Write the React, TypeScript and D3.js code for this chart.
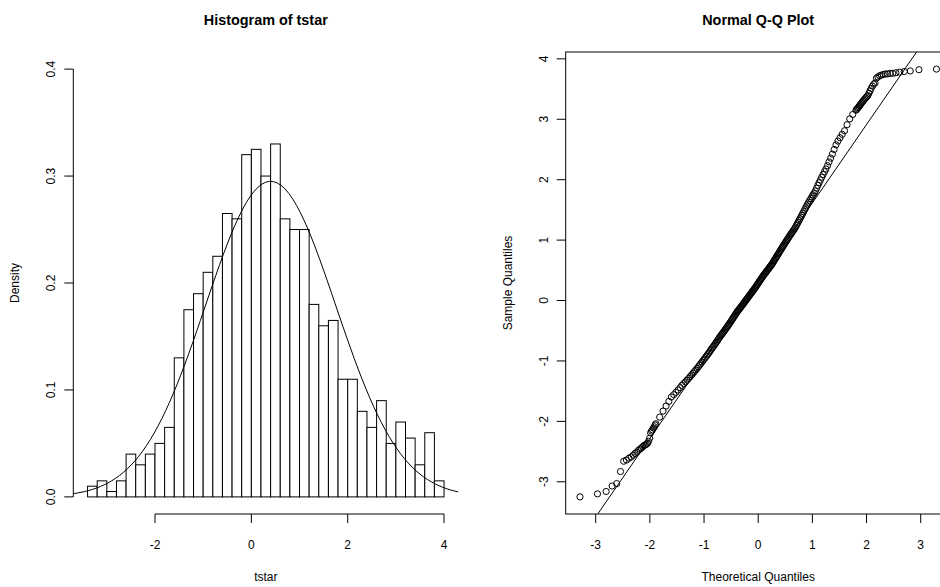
import React from 'react';
import * as d3 from 'd3';

// ---------------- data ----------------
const histBreaks = [-3.4, -3.2, -3.0, -2.8, -2.6, -2.4, -2.2, -2.0, -1.8, -1.6, -1.4, -1.2, -1.0, -0.8, -0.6, -0.4, -0.2, 0, 0.2, 0.4, 0.6, 0.8, 1.0, 1.2, 1.4, 1.6, 1.8, 2.0, 2.2, 2.4, 2.6, 2.8, 3.0, 3.2, 3.4, 3.6, 3.8, 4.0];
const histDensity = [0.01, 0.015, 0.005, 0.015, 0.04, 0.03, 0.04, 0.05, 0.065, 0.13, 0.175, 0.19, 0.21, 0.225, 0.265, 0.26, 0.32, 0.325, 0.3, 0.33, 0.26, 0.25, 0.25, 0.18, 0.16, 0.165, 0.11, 0.11, 0.08, 0.065, 0.09, 0.05, 0.07, 0.055, 0.03, 0.06, 0.015];
const histYLim = [0, 0.4];
const normMean = 0.4;
const normSd = 1.352;
const histXTicks = [-2, 0, 2, 4];
const histYTicks = [0, 0.1, 0.2, 0.3, 0.4];
const histYTickLabels = ['0.0', '0.1', '0.2', '0.3', '0.4'];

const sampleSize = 1000;
// [rank, sample value] — lower tail
const qqLowTail: [number, number][] = [
  [1, -3.25], [2, -3.2], [3, -3.16], [4, -3.07], [5, -3.03], [6, -2.83], [7, -2.66], [8, -2.64], [9, -2.61], [10, -2.59],
  [11, -2.56], [12, -2.53], [13, -2.51], [14, -2.48], [15, -2.46], [16, -2.44], [17, -2.42], [18, -2.4], [19, -2.39], [20, -2.38],
  [21, -2.36], [22, -2.33], [23, -2.28], [24, -2.19], [25, -2.16], [26, -2.14], [27, -2.11], [28, -2.09], [29, -2.06], [30, -2.04],
];
// body
const qqBody: [number, number][] = [
  [35, -1.93], [40, -1.83], [45, -1.746], [50, -1.669], [55, -1.596], [60, -1.558], [65, -1.519], [70, -1.481], [75, -1.442], [80, -1.404],
  [85, -1.374], [90, -1.346], [95, -1.317], [100, -1.289], [105, -1.26], [110, -1.231], [115, -1.203], [120, -1.176], [125, -1.15], [130, -1.124],
  [135, -1.097], [140, -1.071], [145, -1.045], [150, -1.018], [155, -0.993], [160, -0.969], [165, -0.945], [170, -0.921], [175, -0.898], [180, -0.874],
  [185, -0.85], [190, -0.826], [195, -0.802], [200, -0.78], [205, -0.758], [210, -0.736], [215, -0.713], [220, -0.691], [225, -0.669], [230, -0.647],
  [235, -0.624], [240, -0.602], [245, -0.583], [250, -0.564], [255, -0.545], [260, -0.526], [265, -0.508], [270, -0.489], [275, -0.47], [280, -0.451],
  [285, -0.432], [290, -0.413], [295, -0.394], [300, -0.375], [305, -0.356], [310, -0.337], [315, -0.317], [320, -0.298], [325, -0.279], [330, -0.26],
  [335, -0.24], [340, -0.221], [345, -0.202], [350, -0.186], [355, -0.17], [360, -0.155], [365, -0.139], [370, -0.123], [375, -0.108], [380, -0.092],
  [385, -0.077], [390, -0.061], [395, -0.045], [400, -0.03], [405, -0.014], [410, 0.002], [415, 0.017], [420, 0.032], [425, 0.048], [430, 0.063],
  [435, 0.078], [440, 0.094], [445, 0.109], [450, 0.125], [455, 0.14], [460, 0.155], [465, 0.171], [470, 0.186], [475, 0.202], [480, 0.218],
  [485, 0.235], [490, 0.252], [495, 0.268], [500, 0.285], [505, 0.302], [510, 0.318], [515, 0.335], [520, 0.352], [525, 0.368], [530, 0.385],
  [535, 0.402], [540, 0.417], [545, 0.432], [550, 0.447], [555, 0.462], [560, 0.477], [565, 0.492], [570, 0.508], [575, 0.523], [580, 0.538],
  [585, 0.553], [590, 0.568], [595, 0.583], [600, 0.598], [605, 0.617], [610, 0.637], [615, 0.656], [620, 0.675], [625, 0.694], [630, 0.713],
  [635, 0.733], [640, 0.752], [645, 0.771], [650, 0.79], [655, 0.81], [660, 0.83], [665, 0.85], [670, 0.87], [675, 0.89], [680, 0.91],
  [685, 0.93], [690, 0.95], [695, 0.97], [700, 0.99], [705, 1.01], [710, 1.03], [715, 1.05], [720, 1.07], [725, 1.09], [730, 1.11],
  [735, 1.13], [740, 1.15], [745, 1.17], [750, 1.19], [755, 1.214], [760, 1.242], [765, 1.269], [770, 1.297], [775, 1.325], [780, 1.353],
  [785, 1.381], [790, 1.409], [795, 1.441], [800, 1.472], [805, 1.503], [810, 1.534], [815, 1.566], [820, 1.597], [825, 1.627], [830, 1.658],
  [835, 1.688], [840, 1.718], [845, 1.748], [850, 1.779], [855, 1.814], [860, 1.859], [865, 1.905], [870, 1.95], [875, 1.995], [880, 2.041],
  [885, 2.086], [890, 2.132], [895, 2.177], [900, 2.231], [905, 2.294], [910, 2.356], [915, 2.423], [920, 2.5], [925, 2.577], [930, 2.639],
  [935, 2.694], [940, 2.75], [945, 2.81], [950, 2.91], [955, 3.007], [960, 3.079], [965, 3.15],
];
// upper tail
const qqHighTail: [number, number][] = [
  [966, 3.164], [967, 3.179], [968, 3.193], [969, 3.209], [970, 3.227], [971, 3.245], [972, 3.264], [973, 3.282], [974, 3.3], [975, 3.318],
  [976, 3.336], [977, 3.355], [978, 3.373], [979, 3.391], [980, 3.43], [981, 3.47], [982, 3.51], [983, 3.55], [984, 3.58], [985, 3.6],
  [986, 3.68], [987, 3.7], [988, 3.72], [989, 3.73], [990, 3.74], [991, 3.75], [992, 3.75], [993, 3.76], [994, 3.76], [995, 3.77],
  [996, 3.78], [997, 3.79], [998, 3.8], [999, 3.82], [1000, 3.83],
];
const qqXTicks = [-3, -2, -1, 0, 1, 2, 3];
const qqYTicks = [-3, -2, -1, 0, 1, 2, 3, 4];

// ---------------- helpers ----------------
function qnorm(p: number): number {
  const a = [-3.969683028665376e1, 2.209460984245205e2, -2.759285104469687e2, 1.38357751867269e2, -3.066479806614716e1, 2.506628277459239];
  const b = [-5.447609879822406e1, 1.615858368580409e2, -1.556989798598866e2, 6.680131188771972e1, -1.328068155288572e1];
  const c = [-7.784894002430293e-3, -3.223964580411365e-1, -2.400758277161838, -2.549732539343734, 4.374664141464968, 2.938163982698783];
  const d = [7.784695709041462e-3, 3.224671290700398e-1, 2.445134137142996, 3.754408661907416];
  const pl = 0.02425;
  if (p < pl) {
    const q = Math.sqrt(-2 * Math.log(p));
    return (((((c[0] * q + c[1]) * q + c[2]) * q + c[3]) * q + c[4]) * q + c[5]) / ((((d[0] * q + d[1]) * q + d[2]) * q + d[3]) * q + 1);
  }
  if (p > 1 - pl) {
    const q = Math.sqrt(-2 * Math.log(1 - p));
    return -(((((c[0] * q + c[1]) * q + c[2]) * q + c[3]) * q + c[4]) * q + c[5]) / ((((d[0] * q + d[1]) * q + d[2]) * q + d[3]) * q + 1);
  }
  const q = p - 0.5;
  const r = q * q;
  return (((((a[0] * r + a[1]) * r + a[2]) * r + a[3]) * r + a[4]) * r + a[5]) * q / (((((b[0] * r + b[1]) * r + b[2]) * r + b[3]) * r + b[4]) * r + 1);
}
const dnorm = (x: number, m: number, s: number) => Math.exp(-0.5 * ((x - m) / s) ** 2) / (s * Math.sqrt(2 * Math.PI));
const pad4 = (lo: number, hi: number) => { const d = (hi - lo) * 0.04; return [lo - d, hi + d]; };

const FONT = '"Liberation Sans", Arial, Helvetica, sans-serif';
const TOP = 52, BOTTOM = 514;
const PW = 385;
const H_LEFT = 73.3, Q_LEFT = 565.7;
const TICK = 9;

export default function App() {
  // histogram scales
  const hx = d3.scaleLinear().domain(pad4(histBreaks[0], histBreaks[histBreaks.length - 1])).range([H_LEFT, H_LEFT + PW]);
  const hy = d3.scaleLinear().domain(pad4(histYLim[0], histYLim[1])).range([BOTTOM, TOP]);
  const hxd = hx.domain();
  const curvePts = d3.range(101).map(i => hxd[0] + (hxd[1] - hxd[0]) * i / 100);
  const curve = d3.line<number>().x(x => hx(x)).y(x => hy(dnorm(x, normMean, normSd)))(curvePts) || '';

  // qq data
  const all = [...qqLowTail, ...qqBody, ...qqHighTail];
  const pts = all.map(([r, v]) => ({ t: qnorm((r - 0.5) / sampleSize), v }));
  const tExt = d3.extent(pts, p => p.t) as [number, number];
  const vExt = d3.extent(pts, p => p.v) as [number, number];
  const qx = d3.scaleLinear().domain(pad4(tExt[0], tExt[1])).range([Q_LEFT, Q_LEFT + PW]);
  const qy = d3.scaleLinear().domain(pad4(vExt[0], vExt[1])).range([BOTTOM, TOP]);
  // qqline through sample quartiles (R type-7 positions on the full sample of ranks)
  const rankToValue = d3.scaleLinear().domain(all.map(d => d[0])).range(all.map(d => d[1]));
  const q1 = rankToValue(1 + 0.25 * (sampleSize - 1));
  const q3 = rankToValue(1 + 0.75 * (sampleSize - 1));
  const slope = (q3 - q1) / (qnorm(0.75) - qnorm(0.25));
  const intercept = q1 - slope * qnorm(0.25);
  const qxd = qx.domain();

  return (
    <svg width={940} height={587} style={{ position: 'absolute', left: 0, top: 0, background: '#fff' }} fontFamily={FONT}>
      <defs>
        <clipPath id="hclip"><rect x={H_LEFT} y={TOP} width={PW} height={BOTTOM - TOP} /></clipPath>
        <clipPath id="qclip"><rect x={Q_LEFT} y={TOP} width={PW} height={BOTTOM - TOP} /></clipPath>
      </defs>
      <rect x={0} y={0} width={940} height={587} fill="#fff" />

      {/* ---------- Histogram ---------- */}
      <text x={H_LEFT + PW / 2} y={20} textAnchor="middle" dominantBaseline="central" fontWeight="bold" fontSize={14.4}>Histogram of tstar</text>
      <g>
        {histDensity.map((d, i) => (
          <rect key={i} x={hx(histBreaks[i])} y={hy(d)} width={hx(histBreaks[i + 1]) - hx(histBreaks[i])} height={hy(0) - hy(d)}
            fill="#fff" stroke="#000" strokeWidth={1} />
        ))}
      </g>
      <path d={curve} fill="none" stroke="#000" strokeWidth={1} clipPath="url(#hclip)" />
      {/* x axis */}
      <line x1={hx(histXTicks[0])} x2={hx(histXTicks[histXTicks.length - 1])} y1={BOTTOM} y2={BOTTOM} stroke="#000" />
      {histXTicks.map(t => (
        <g key={t}>
          <line x1={hx(t)} x2={hx(t)} y1={BOTTOM} y2={BOTTOM + TICK} stroke="#000" />
          <text x={hx(t)} y={545} textAnchor="middle" dominantBaseline="central" fontSize={12}>{t}</text>
        </g>
      ))}
      {/* y axis */}
      <line x1={H_LEFT} x2={H_LEFT} y1={hy(histYTicks[0])} y2={hy(histYTicks[histYTicks.length - 1])} stroke="#000" />
      {histYTicks.map((t, i) => (
        <g key={t}>
          <line x1={H_LEFT - TICK} x2={H_LEFT} y1={hy(t)} y2={hy(t)} stroke="#000" />
          <text transform={`translate(${H_LEFT - 22},${hy(t)}) rotate(-90)`} textAnchor="middle" dominantBaseline="central" fontSize={12}>{histYTickLabels[i]}</text>
        </g>
      ))}
      <text x={H_LEFT + PW / 2} y={577} textAnchor="middle" dominantBaseline="central" fontSize={12}>tstar</text>
      <text transform={`translate(15,${(TOP + BOTTOM) / 2}) rotate(-90)`} textAnchor="middle" dominantBaseline="central" fontSize={12}>Density</text>

      {/* ---------- QQ plot ---------- */}
      <text x={Q_LEFT + PW / 2} y={20} textAnchor="middle" dominantBaseline="central" fontWeight="bold" fontSize={14.4}>Normal Q-Q Plot</text>
      <g clipPath="url(#qclip)">
        {pts.map((p, i) => (
          <circle key={i} cx={qx(p.t)} cy={qy(p.v)} r={3.1} fill="none" stroke="#000" strokeWidth={1} />
        ))}
        <line x1={qx(qxd[0])} y1={qy(intercept + slope * qxd[0])} x2={qx(qxd[1])} y2={qy(intercept + slope * qxd[1])} stroke="#000" strokeWidth={1} />
      </g>
      <rect x={Q_LEFT} y={TOP} width={PW} height={BOTTOM - TOP} fill="none" stroke="#000" strokeWidth={1} />
      {qqXTicks.map(t => (
        <g key={t}>
          <line x1={qx(t)} x2={qx(t)} y1={BOTTOM} y2={BOTTOM + TICK} stroke="#000" />
          <text x={qx(t)} y={545} textAnchor="middle" dominantBaseline="central" fontSize={12}>{t}</text>
        </g>
      ))}
      {qqYTicks.map(t => (
        <g key={t}>
          <line x1={Q_LEFT - TICK} x2={Q_LEFT} y1={qy(t)} y2={qy(t)} stroke="#000" />
          <text transform={`translate(${Q_LEFT - 22},${qy(t)}) rotate(-90)`} textAnchor="middle" dominantBaseline="central" fontSize={12}>{t}</text>
        </g>
      ))}
      <text x={Q_LEFT + PW / 2} y={577} textAnchor="middle" dominantBaseline="central" fontSize={12}>Theoretical Quantiles</text>
      <text transform={`translate(${Q_LEFT - 58},${(TOP + BOTTOM) / 2}) rotate(-90)`} textAnchor="middle" dominantBaseline="central" fontSize={12}>Sample Quantiles</text>
    </svg>
  );
}
